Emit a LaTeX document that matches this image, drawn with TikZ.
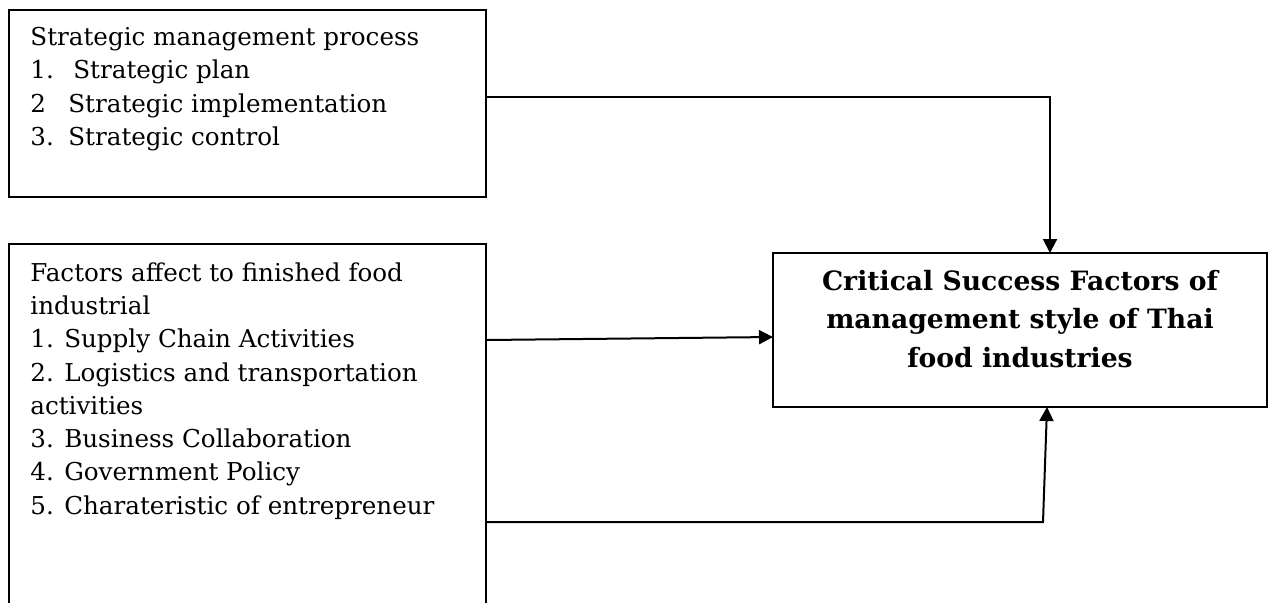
\documentclass[tikz,border=0pt]{standalone}
\usepackage{fontspec}
\setmainfont{DejaVu Serif}
\usetikzlibrary{arrows.meta,calc}
\begin{document}
\begin{tikzpicture}[x=0.5pt,y=-0.5pt,
  box/.style={draw,line width=1pt,inner sep=0pt,outer sep=0pt,anchor=north west},
  txt/.style={anchor=north west,align=left,inner sep=0pt,font=\fontsize{12.3}{16.65}\selectfont},
  btxt/.style={align=center,inner sep=0pt,font=\fontsize{13.3}{19.25}\selectfont\bfseries},
  arr/.style={line width=1pt,-{Triangle[length=7pt,width=7pt]}}]
\useasboundingbox (0,0) rectangle (1268,602);
\clip (0,0) rectangle (1268,602);
\fill[white] (0,0) rectangle (1268,602);
% boxes
\node[box,minimum width=238.5pt,minimum height=93.5pt] (b1) at (9,10) {};
\node[box,minimum width=238.5pt,minimum height=190pt] (b2) at (9,244) {};
\node[box,minimum width=247pt,minimum height=77pt] (b3) at (773,253) {};
% texts
\node[txt] (t1) at (30,27) {Strategic management process\\
\makebox[21.5pt][l]{1.}Strategic plan\\
\makebox[19pt][l]{2}Strategic implementation\\
\makebox[19pt][l]{3.}Strategic control};
\node[txt] (t2) at (30,262) {Factors affect to finished food\\
industrial\\
1. Supply Chain Activities\\
2. Logistics and transportation\\
activities\\
3. Business Collaboration\\
4. Government Policy\\
5. Charateristic of entrepreneur};
\node[btxt] (t3) at (1020,319) {Critical Success Factors of\\management style of Thai\\food industries};
% connectors
\coordinate (a1) at (1050,97);
\coordinate (a2s) at (0,340);
\coordinate (a2e) at (0,337);
\coordinate (a3) at (1043,522);
\coordinate (c3) at (1047,0);
\draw[arr] (b1.east |- a1) -- (a1) -- (a1 |- b3.north);
\draw[arr] (b2.east |- a2s) -- (b3.west |- a2e);
\draw[arr] (b2.east |- a3) -- (a3) -- (b3.south -| c3);
\end{tikzpicture}
\end{document}
